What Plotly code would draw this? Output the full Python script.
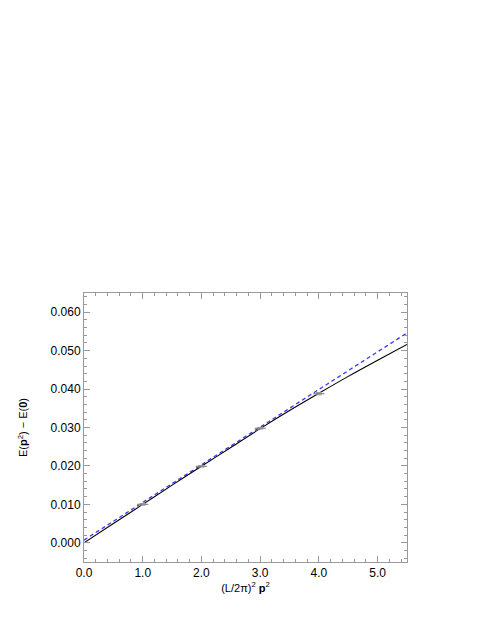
import plotly.graph_objects as go

# lattice data points (x = (L/2pi)^2 p^2)
pts_x = [1.0, 2.0, 3.0, 4.0]
pts_y = [0.0100, 0.0199, 0.0298, 0.0388]
pts_err = [0.0002, 0.0002, 0.0002, 0.0003]

# solid black fit curve
fit_x = [0.0, 0.5, 1.0, 1.5, 2.0, 2.5, 3.0, 3.5, 4.0, 4.5, 5.0, 5.5]
fit_y = [0.0000, 0.0050, 0.0100, 0.0150, 0.0199, 0.0248, 0.0297, 0.0344, 0.0389, 0.0433, 0.0475, 0.0516]

# dashed blue line
lin_x = [0.0, 5.5]
lin_y = [0.0007, 0.0546]

fig = go.Figure()
fig.add_trace(go.Scatter(x=lin_x, y=lin_y, mode="lines",
                         line=dict(color="#3a3aff", width=1.3, dash="4px,3px")))
fig.add_trace(go.Scatter(x=fit_x, y=fit_y, mode="lines", line_shape="spline",
                         line=dict(color="black", width=1.1)))
fig.add_trace(go.Scatter(x=pts_x, y=pts_y, mode="markers",
                         marker=dict(symbol="line-ew", size=8, color="#888888",
                                     line=dict(color="#888888", width=1.2)),
                         error_y=dict(type="data", array=pts_err, color="#999999",
                                      thickness=1, width=3)))

axis_common = dict(showgrid=False, zeroline=False, showline=True, linecolor="#999999",
                   linewidth=1, mirror="ticks", ticks="inside", ticklen=6,
                   tickcolor="#999999", tickfont=dict(size=12, color="black"))

fig.update_xaxes(range=[0, 5.5], tick0=0, dtick=1, tickformat=".1f",
                 minor=dict(ticks="inside", ticklen=3, dtick=0.2, tickcolor="#999999"),
                 title=dict(text="(L/2π)<sup>2</sup> <b>p</b><sup>2</sup>",
                            font=dict(size=11, color="black"), standoff=4),
                 **axis_common)
fig.update_yaxes(range=[-0.005, 0.065], tick0=0, dtick=0.01, tickformat=".3f",
                 minor=dict(ticks="inside", ticklen=3, dtick=0.002, tickcolor="#999999"),
                 title=dict(text="E(<b>p</b><sup>2</sup>) − E(<b>0</b>)",
                            font=dict(size=11, color="black"), standoff=20),
                 **axis_common)

fig.update_layout(width=491, height=635, showlegend=False,
                  margin=dict(l=76, r=92, t=285, b=81),
                  paper_bgcolor="white", plot_bgcolor="white",
                  font=dict(family="Liberation Sans, Arial, sans-serif", color="black"))

fig.write_html("out.html")
